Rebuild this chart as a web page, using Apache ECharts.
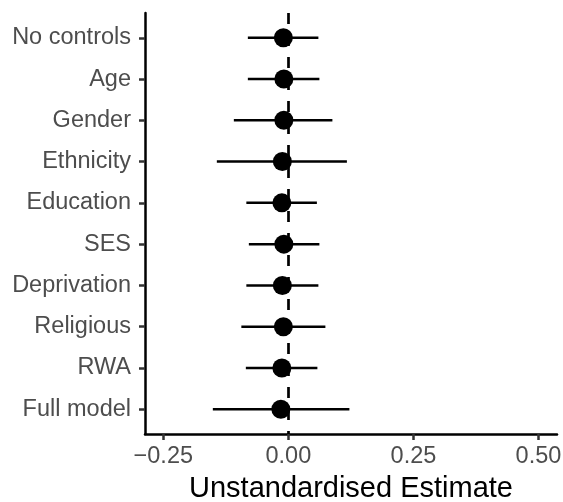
<!DOCTYPE html>
<html>
<head>
<meta charset="utf-8">
<script src="https://cdn.jsdelivr.net/npm/echarts@6/dist/echarts.min.js"></script>
<style>
  html, body { margin: 0; padding: 0; background: #fff; }
  #chart { width: 563px; height: 502px; }
</style>
</head>
<body>
<div id="chart"></div>
<script>
// model names, top to bottom
const models = ['No controls', 'Age', 'Gender', 'Ethnicity', 'Education', 'SES', 'Deprivation', 'Religious', 'RWA', 'Full model']
// estimates and confidence limits
const estimate = [-0.010, -0.009, -0.009, -0.012, -0.013, -0.009, -0.012, -0.010, -0.013, -0.015]
const lower = [-0.081, -0.081, -0.109, -0.143, -0.084, -0.079, -0.084, -0.094, -0.085, -0.151]
const upper = [0.060, 0.062, 0.088, 0.117, 0.057, 0.062, 0.060, 0.074, 0.058, 0.122]
const xTicks = [-0.25, 0, 0.25, 0.5]

const idx = models.map((m, i) => i)
const fmt = v => (v < 0 ? '\u2212' : '') + Math.abs(v).toFixed(2)

const chart = echarts.init(document.getElementById('chart'))

chart.setOption({
  animation: false,
  grid: { left: 145, right: 6, top: 13, bottom: 68, outerBoundsMode: 'none' },
  textStyle: { fontFamily: 'Liberation Sans' },
  xAxis: {
    type: 'value',
    min: -0.2866,
    max: 0.537,
    name: 'Unstandardised Estimate',
    nameLocation: 'middle',
    nameGap: 40,
    nameTextStyle: { fontSize: 29, color: '#000' },
    splitLine: { show: false },
    axisLine: { onZero: false, lineStyle: { color: '#000', width: 2.5 } },
    axisTick: { customValues: xTicks, length: 6, lineStyle: { color: '#333', width: 2.5 } },
    axisLabel: { customValues: xTicks, formatter: fmt, fontSize: 23.5, color: '#4d4d4d', margin: 11 }
  },
  yAxis: {
    type: 'value',
    inverse: true,
    min: -0.6,
    max: 9.6,
    splitLine: { show: false },
    axisLine: { show: true, onZero: false, lineStyle: { color: '#000', width: 2.5 } },
    axisTick: { show: true, customValues: idx, length: 6, lineStyle: { color: '#333', width: 2.5 } },
    axisLabel: { customValues: idx, formatter: v => models[Math.round(v)], fontSize: 23.5, color: '#4d4d4d', margin: 14 }
  },
  series: [
    {
      type: 'custom',
      z: 2,
      data: idx.map(i => [lower[i], upper[i], i]),
      encode: { x: [0, 1], y: 2 },
      renderItem: (params, api) => {
        const a = api.coord([api.value(0), api.value(2)])
        const b = api.coord([api.value(1), api.value(2)])
        return {
          type: 'line',
          shape: { x1: a[0], y1: a[1], x2: b[0], y2: b[1] },
          style: { stroke: '#000', lineWidth: 2.5 }
        }
      },
      markLine: {
        silent: true,
        symbol: 'none',
        label: { show: false },
        lineStyle: { color: '#000', type: [11, 11], width: 2.7 },
        data: [{ xAxis: 0 }]
      }
    },
    {
      type: 'scatter',
      z: 3,
      symbol: 'circle',
      symbolSize: 19,
      itemStyle: { color: '#000', opacity: 1 },
      data: idx.map(i => [estimate[i], i])
    }
  ]
})
</script>
</body>
</html>
